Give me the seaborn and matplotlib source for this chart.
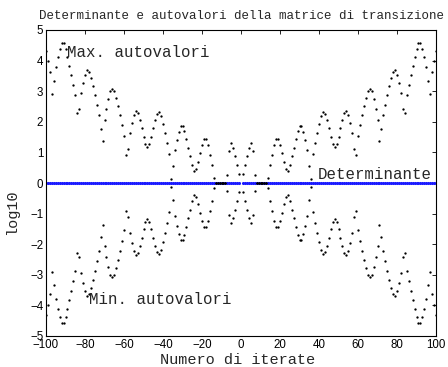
import matplotlib
matplotlib.use("Agg")
import matplotlib.pyplot as plt
import numpy as np
import pandas as pd
import seaborn as sns

# ---- data ----
iterate_neg = list(range(-100, 0))
iterate_pos = list(range(1, 101))

max_neg = [4.30, 4.00, 3.63, 2.91, 3.34, 3.78, 4.13, 4.39, 4.59, 4.57,
           4.39, 4.13, 3.83, 3.54, 3.21, 2.87, 2.28, 2.41, 2.93, 3.26,
           3.54, 3.69, 3.63, 3.43, 3.16, 2.87, 2.56, 2.21, 1.75, 1.38,
           2.07, 2.43, 2.73, 3.02, 3.08, 3.02, 2.78, 2.51, 2.21, 1.89,
           1.54, 0.91, 1.12, 1.62, 1.95, 2.21, 2.34, 2.28, 2.06, 1.80,
           1.51, 1.27, 1.19, 1.27, 1.51, 1.80, 2.07, 2.27, 2.31, 2.18,
           1.93, 1.62, 1.32, 0.96, 0.14, 0.56, 1.07, 1.40, 1.67, 1.86,
           1.86, 1.69, 1.43, 1.15, 0.87, 0.59, 0.40, 0.47, 0.69, 0.97,
           1.25, 1.45, 1.45, 1.23, 0.91, 0.60, 0.16, 0.00, 0.00, 0.00,
           0.00, 0.00, 0.00, 0.27, 1.06, 1.30, 1.14, 0.88, 0.60, 0.29]

max_pos = [0.29, 0.60, 0.88, 1.14, 1.30, 1.06, 0.27, 0.00, 0.00, 0.00,
           0.00, 0.00, 0.00, 0.16, 0.60, 0.91, 1.23, 1.45, 1.45, 1.25,
           0.97, 0.69, 0.47, 0.40, 0.59, 0.87, 1.15, 1.43, 1.69, 1.86,
           1.86, 1.67, 1.40, 1.07, 0.56, 0.14, 0.96, 1.32, 1.62, 1.93,
           2.18, 2.31, 2.27, 2.07, 1.80, 1.51, 1.27, 1.19, 1.27, 1.51,
           1.80, 2.06, 2.28, 2.34, 2.21, 1.95, 1.62, 1.12, 0.91, 1.54,
           1.89, 2.21, 2.51, 2.78, 3.02, 3.08, 3.02, 2.73, 2.43, 2.07,
           1.38, 1.75, 2.21, 2.56, 2.87, 3.16, 3.43, 3.63, 3.69, 3.54,
           3.26, 2.93, 2.41, 2.28, 2.87, 3.21, 3.54, 3.83, 4.13, 4.39,
           4.57, 4.59, 4.39, 4.13, 3.78, 3.34, 2.91, 3.63, 4.00, 4.30]

min_neg = [-4.30, -4.00, -3.63, -2.91, -3.34, -3.78, -4.13, -4.39, -4.59, -4.57,
           -4.39, -4.13, -3.83, -3.54, -3.21, -2.87, -2.28, -2.41, -2.93, -3.26,
           -3.54, -3.69, -3.63, -3.43, -3.16, -2.87, -2.56, -2.21, -1.75, -1.38,
           -2.07, -2.43, -2.73, -3.02, -3.08, -3.02, -2.78, -2.51, -2.21, -1.89,
           -1.54, -0.91, -1.12, -1.62, -1.95, -2.21, -2.34, -2.28, -2.06, -1.80,
           -1.51, -1.27, -1.19, -1.27, -1.51, -1.80, -2.07, -2.27, -2.31, -2.18,
           -1.93, -1.62, -1.32, -0.96, -0.14, -0.56, -1.07, -1.40, -1.67, -1.86,
           -1.86, -1.69, -1.43, -1.15, -0.87, -0.59, -0.40, -0.47, -0.69, -0.97,
           -1.25, -1.45, -1.45, -1.23, -0.91, -0.60, -0.16, 0.00, 0.00, 0.00,
           0.00, 0.00, 0.00, -0.27, -1.06, -1.30, -1.14, -0.88, -0.60, -0.29]

min_pos = [-0.29, -0.60, -0.88, -1.14, -1.30, -1.06, -0.27, 0.00, 0.00, 0.00,
           0.00, 0.00, 0.00, -0.16, -0.60, -0.91, -1.23, -1.45, -1.45, -1.25,
           -0.97, -0.69, -0.47, -0.40, -0.59, -0.87, -1.15, -1.43, -1.69, -1.86,
           -1.86, -1.67, -1.40, -1.07, -0.56, -0.14, -0.96, -1.32, -1.62, -1.93,
           -2.18, -2.31, -2.27, -2.07, -1.80, -1.51, -1.27, -1.19, -1.27, -1.51,
           -1.80, -2.06, -2.28, -2.34, -2.21, -1.95, -1.62, -1.12, -0.91, -1.54,
           -1.89, -2.21, -2.51, -2.78, -3.02, -3.08, -3.02, -2.73, -2.43, -2.07,
           -1.38, -1.75, -2.21, -2.56, -2.87, -3.16, -3.43, -3.63, -3.69, -3.54,
           -3.26, -2.93, -2.41, -2.28, -2.87, -3.21, -3.54, -3.83, -4.13, -4.39,
           -4.57, -4.59, -4.39, -4.13, -3.78, -3.34, -2.91, -3.63, -4.00, -4.30]

det_neg = [0.0] * 100
det_pos = [0.0] * 100

x_ticks = [-100, -80, -60, -40, -20, 0, 20, 40, 60, 80, 100]
y_ticks = [-5, -4, -3, -2, -1, 0, 1, 2, 3, 4, 5]

title = "Determinante e autovalori della matrice di transizione"
xlabel = "Numero di iterate"
ylabel = "log10"

# ---- build tables ----
iters = iterate_neg + iterate_pos
df_det = pd.DataFrame({"n": iters, "v": det_neg + det_pos})
df_max = pd.DataFrame({"n": iters, "v": max_neg + max_pos})
df_min = pd.DataFrame({"n": iters, "v": min_neg + min_pos})

sns.set_style("white")
plt.rcParams["font.family"] = ["Liberation Mono", "DejaVu Sans"]

fig = plt.figure(figsize=(4.48, 3.67), dpi=100)
ax = fig.add_axes([46 / 448, 31 / 367, 390 / 448, 306 / 367])

sns.scatterplot(data=df_det, x="n", y="v", ax=ax, color="#1a1aff",
                s=5, marker="o", linewidth=0, zorder=2)
sns.scatterplot(data=df_max, x="n", y="v", ax=ax, color="black",
                s=2.8, marker="o", linewidth=0, zorder=3)
sns.scatterplot(data=df_min, x="n", y="v", ax=ax, color="black",
                s=2.8, marker="o", linewidth=0, zorder=3)

ax.set_xlim(-100, 100)
ax.set_ylim(-5, 5)
ax.set_xticks(x_ticks)
ax.set_yticks(y_ticks)
ax.tick_params(direction="in", length=3, width=0.6, top=True, right=True,
               labelsize=8.3, pad=2, colors="black")
for lab in ax.get_xticklabels() + ax.get_yticklabels():
    lab.set_fontfamily("Liberation Sans")
for sp in ax.spines.values():
    sp.set_visible(True)
    sp.set_color("black")
    sp.set_linewidth(0.8)

ax.text(-89, 4.25, "Max. autovalori", fontsize=11.3, ha="left", va="center")
ax.text(-78, -3.82, "Min. autovalori", fontsize=11.3, ha="left", va="center")
ax.text(39.5, 0.29, "Determinante", fontsize=11.3, ha="left", va="center")

ax.set_title(title, fontsize=9.0, pad=8)
ax.set_xlabel(xlabel, fontsize=11.0, va="center")
ax.set_ylabel(ylabel, fontsize=11.0, va="center")
ax.xaxis.set_label_coords(0.49, -0.078)
ax.yaxis.set_label_coords(-0.087, 0.405)

fig.savefig("out.png", dpi=100)
